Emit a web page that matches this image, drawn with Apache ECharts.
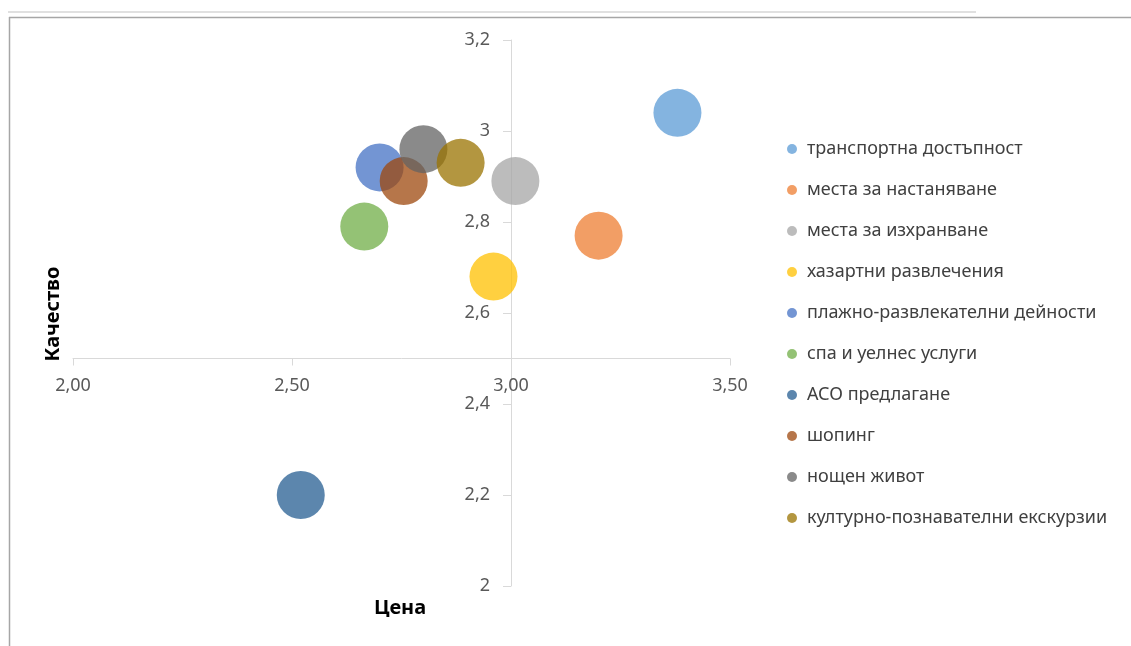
<!DOCTYPE html>
<html>
<head>
<meta charset="utf-8">
<script src="https://cdn.jsdelivr.net/npm/echarts@6/dist/echarts.min.js"></script>
<style>
html,body{margin:0;padding:0;background:#fff;}
#chart{width:1131px;height:646px;}
</style>
</head>
<body>
<div id="chart"></div>
<script>
// Data
const seriesNames = [
  'транспортна достъпност',
  'места за настаняване',
  'места за изхранване',
  'хазартни развлечения',
  'плажно-развлекателни дейности',
  'спа и уелнес услуги',
  'АСО предлагане',
  'шопинг',
  'нощен живот',
  'културно-познавателни екскурзии'
];
const priceValues   = [3.38, 3.20, 3.01, 2.96, 2.70, 2.665, 2.52, 2.755, 2.80, 2.885];
const qualityValues = [3.04, 2.77, 2.89, 2.68, 2.92, 2.79, 2.20, 2.89, 2.96, 2.93];
const seriesColors = ['#5B9BD5','#ED7D31','#A5A5A5','#FFC000','#4472C4','#70AD47','#255E91','#9E480E','#636363','#997300'];
const xAxisTitle = 'Цена';
const yAxisTitle = 'Качество';

const X_MIN = 2.0, X_MAX = 3.5, X_INT = 0.5;
const Y_MIN = 2.0, Y_MAX = 3.2, Y_INT = 0.2;

const chart = echarts.init(document.getElementById('chart'), null, {renderer:'canvas'});

const FONT = '"Noto Sans", "Open Sans", sans-serif';
const G = {left:73, top:40, width:657, height:546};
const yCross = 2.5, xCross = 3.0;
const crossPxY = G.top + G.height * (Y_MAX - yCross) / (Y_MAX - Y_MIN);
const crossPxX = G.left + G.width * (xCross - X_MIN) / (X_MAX - X_MIN);

const hidden = {show:false};
const series = seriesNames.map((n,i)=>({
  name:n,
  type:'scatter',
  xAxisIndex:0, yAxisIndex:0,
  symbol:'circle',
  symbolSize:48,
  itemStyle:{color:seriesColors[i], opacity:0.75},
  emphasis:{disabled:true},
  data:[[priceValues[i], qualityValues[i]]],
  z:2+i
}));

chart.setOption({
  animation:false,
  backgroundColor:'#ffffff',
  textStyle:{fontFamily:FONT},
  grid:[
    {left:G.left, top:G.top, width:G.width, height:G.height},
    {left:G.left, top:G.top, width:G.width, height:crossPxY - G.top},
    {left:crossPxX, top:G.top, width:G.left + G.width - crossPxX, height:G.height}
  ],
  xAxis:[
    {gridIndex:0, type:'value', min:X_MIN, max:X_MAX, interval:X_INT, axisLine:hidden, axisTick:hidden, axisLabel:hidden, splitLine:hidden},
    {gridIndex:1, type:'value', min:X_MIN, max:X_MAX, interval:X_INT, position:'bottom',
      axisLine:{show:true, lineStyle:{color:'#D9D9D9', width:1}},
      axisTick:{show:true, length:7, lineStyle:{color:'#D9D9D9'}},
      axisLabel:{show:true, margin:18, color:'#595959', fontSize:18, fontFamily:FONT,
        formatter:v=>v.toFixed(2).replace('.',',')},
      splitLine:hidden},
    {gridIndex:2, type:'value', min:xCross, max:X_MAX, axisLine:hidden, axisTick:hidden, axisLabel:hidden, splitLine:hidden}
  ],
  yAxis:[
    {gridIndex:0, type:'value', min:Y_MIN, max:Y_MAX, interval:Y_INT, axisLine:hidden, axisTick:hidden, axisLabel:hidden, splitLine:hidden},
    {gridIndex:1, type:'value', min:yCross, max:Y_MAX, axisLine:hidden, axisTick:hidden, axisLabel:hidden, splitLine:hidden},
    {gridIndex:2, type:'value', min:Y_MIN, max:Y_MAX, interval:Y_INT, position:'left',
      axisLine:{show:true, lineStyle:{color:'#D9D9D9', width:1}},
      axisTick:{show:true, length:8, lineStyle:{color:'#D9D9D9'}},
      axisLabel:{show:true, margin:21, color:'#595959', fontSize:18, fontFamily:FONT,
        formatter:v=>String(Math.round(v*10)/10).replace('.',',')},
      splitLine:hidden}
  ],
  legend:{
    orient:'vertical',
    left:782, top:134,
    itemWidth:10, itemHeight:10,
    itemGap:21,
    icon:'circle',
    textStyle:{fontSize:18, color:'#404040', fontFamily:FONT, lineHeight:20, padding:[0,0,0,5]},
    selectedMode:false,
    data:seriesNames
  },
  series:series,
  graphic:[
    {type:'line', shape:{x1:8, y1:12, x2:976, y2:12}, style:{stroke:'#E0E0E0', lineWidth:2}, silent:true},
    {type:'line', shape:{x1:9, y1:17.5, x2:1131, y2:17.5}, style:{stroke:'#A6A6A6', lineWidth:1.5}, silent:true},
    {type:'line', shape:{x1:9.5, y1:17, x2:9.5, y2:646}, style:{stroke:'#A6A6A6', lineWidth:1.5}, silent:true},
    {type:'text', x:400, y:608, style:{text:xAxisTitle, align:'center', verticalAlign:'middle', font:'bold 20px '+FONT, fill:'#000'}, silent:true},
    {type:'text', x:53, y:314, rotation:Math.PI/2, style:{text:yAxisTitle, align:'center', verticalAlign:'middle', font:'bold 20px '+FONT, fill:'#000'}, silent:true}
  ]
});
</script>
</body>
</html>
